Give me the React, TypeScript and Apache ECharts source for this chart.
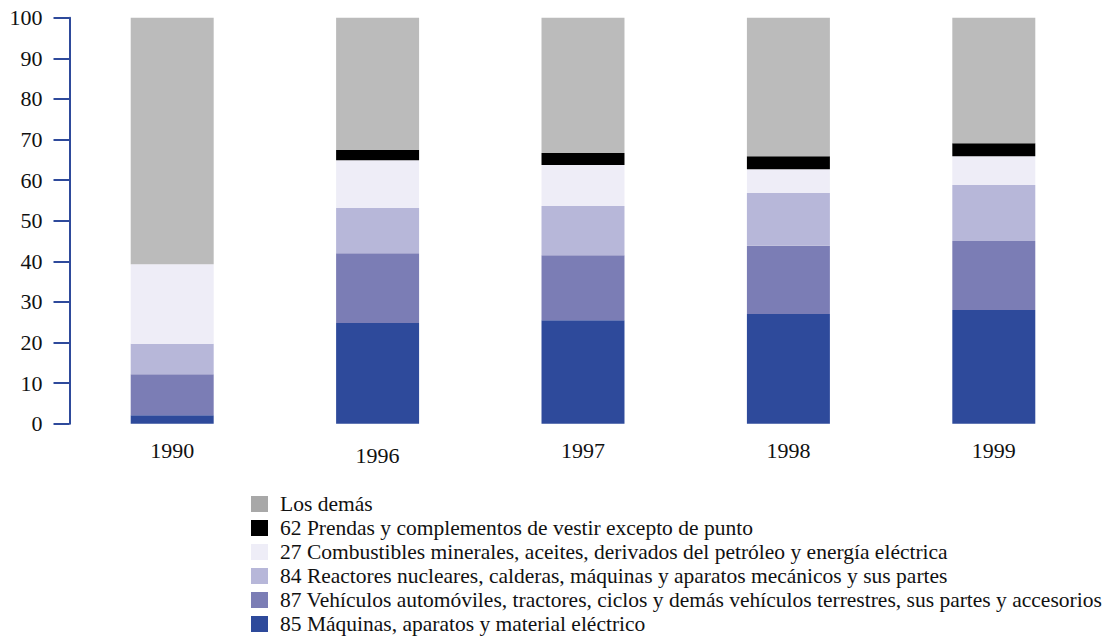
import React, { useEffect, useRef } from "react";
import * as echarts from "echarts";

const categories = ["1990", "1996", "1997", "1998", "1999"];
const seriesNames = [
  "85 Máquinas, aparatos y material eléctrico",
  "87 Vehículos automóviles, tractores, ciclos y demás vehículos terrestres, sus partes y accesorios",
  "84 Reactores nucleares, calderas, máquinas y aparatos mecánicos y sus partes",
  "27 Combustibles minerales, aceites, derivados del petróleo y energía eléctrica",
  "62 Prendas y complementos de vestir excepto de punto",
  "Los demás",
];
const s85 = [2.1, 24.8, 25.5, 27.0, 28.0];
const s87 = [10.1, 17.2, 16.0, 16.8, 17.0];
const s84 = [7.5, 11.1, 12.1, 13.0, 13.8];
const s27 = [19.6, 11.8, 10.1, 5.9, 7.1];
const s62 = [0, 2.5, 3.0, 3.2, 3.2];
const sRest = [60.7, 32.6, 33.3, 34.1, 30.9];
const yTicks = [0, 10, 20, 30, 40, 50, 60, 70, 80, 90, 100];

const colors = ["#2e4a9b", "#7b7db5", "#b7b7d9", "#eeedf7", "#000000", "#bbbbbb"];
const legendColors = ["#2e4a9b", "#7b7db5", "#b7b7d9", "#eeedf7", "#000000", "#a8a8a8"];

export default function App() {
  const ref = useRef<HTMLDivElement>(null);
  useEffect(() => {
    if (!ref.current) return;
    const chart = echarts.init(ref.current, undefined, { renderer: "svg" });
    const values = [s85, s87, s84, s27, s62, sRest];
    const font = "Liberation Serif";
    chart.setOption({
      animation: false,
      backgroundColor: "#ffffff",
      textStyle: { fontFamily: font },
      grid: { left: 69.5, right: 6.5, top: 17.7, bottom: 213.3 },
      legend: {
        orient: "vertical",
        left: 251,
        top: 493,
        height: 200,
        padding: 0,
        itemWidth: 17,
        itemHeight: 16,
        itemGap: 2,
        selectedMode: false,
        icon: "rect",
        textStyle: {
          fontFamily: font,
          fontSize: 21.5,
          color: "#111",
          lineHeight: 16,
          padding: [0, 0, 0, 7],
        },
        data: seriesNames
          .map((n, i) => ({ name: n, itemStyle: { color: legendColors[i] } }))
          .reverse(),
      },
      xAxis: {
        type: "category",
        data: categories.map((c) =>
          c === "1996" ? { value: c, textStyle: { padding: [5, 0, 0, 0] } } : { value: c }
        ),
        axisLine: { show: false },
        axisTick: { show: false },
        axisLabel: { fontFamily: font, fontSize: 22, color: "#111", margin: 16 },
      },
      yAxis: {
        type: "value",
        min: 0,
        max: 100,
        interval: 10,
        splitLine: { show: false },
        axisLine: { show: true, lineStyle: { color: "#2e4a9b", width: 2 } },
        axisTick: { show: true, inside: false, length: 16, lineStyle: { color: "#2e4a9b", width: 2 } },
        axisLabel: {
          fontFamily: font,
          fontSize: 22,
          color: "#111",
          margin: 27,
          formatter: (v: number) => (yTicks.includes(v) ? String(v) : ""),
        },
      },
      series: seriesNames.map((n, i) => ({
        name: n,
        type: "bar",
        stack: "total",
        barWidth: "40.4%",
        itemStyle: { color: colors[i] },
        data: values[i],
      })),
    });
    return () => chart.dispose();
  }, []);
  return (
    <div
      ref={ref}
      style={{ position: "fixed", left: 0, top: 0, width: 1103, height: 637 }}
    />
  );
}
